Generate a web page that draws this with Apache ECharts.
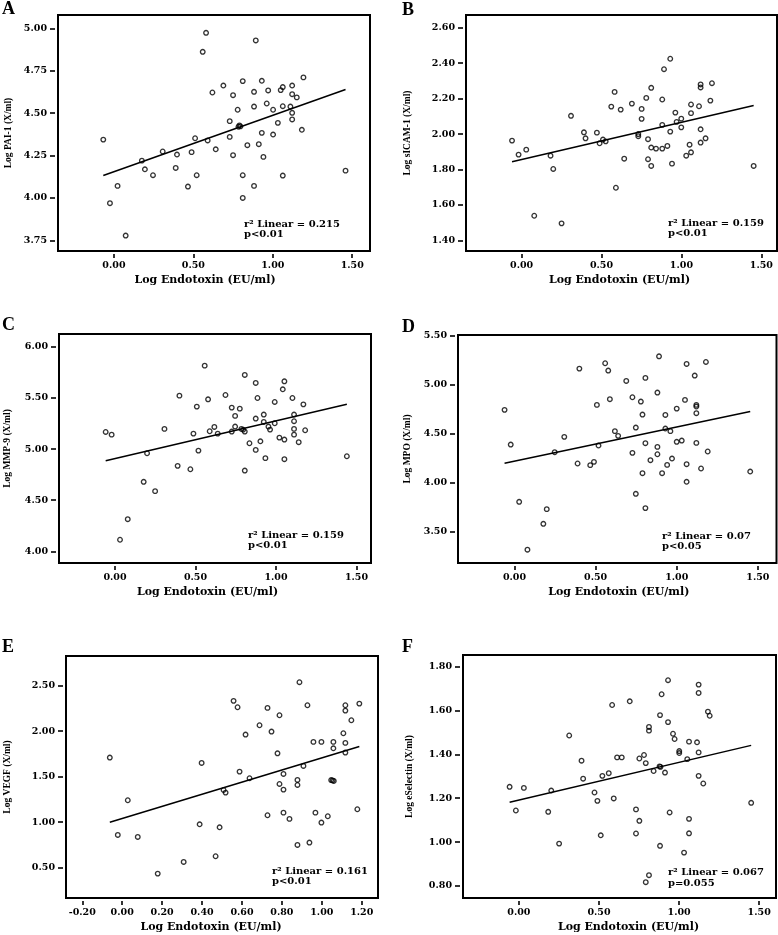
<!DOCTYPE html>
<html><head><meta charset="utf-8">
<script src="https://cdn.jsdelivr.net/npm/echarts@6/dist/echarts.min.js"></script>
<style>html,body{margin:0;padding:0;background:#fff}#c{width:778px;height:935px}</style>
</head><body><div id="c"></div>
<script>
// ---------- tick labels ----------
const xTicksMain = [0, 0.5, 1.0, 1.5];
const xTicksE = [-0.2, 0, 0.2, 0.4, 0.6, 0.8, 1.0, 1.2];
const yTicksA = [3.75, 4.00, 4.25, 4.50, 4.75, 5.00];
const yTicksB = [1.40, 1.60, 1.80, 2.00, 2.20, 2.40, 2.60];
const yTicksC = [4.00, 4.50, 5.00, 5.50, 6.00];
const yTicksD = [3.50, 4.00, 4.50, 5.00, 5.50];
const yTicksE = [0.50, 1.00, 1.50, 2.00, 2.50];
const yTicksF = [0.80, 1.00, 1.20, 1.40, 1.60, 1.80];

// ---------- categories / labels ----------
const panelLetters = ['A', 'B', 'C', 'D', 'E', 'F'];
const yTitles = ['Log PAI-1 (X/ml)', 'Log sICAM-1 (X/ml)', 'Log MMP-9 (X/ml)', 'Log MPO (X/ml)', 'Log VEGF (X/ml)', 'Log eSelectin (X/ml)'];
const xTitle = 'Log Endotoxin (EU/ml)';
const r2Values = ['0.215', '0.159', '0.159', '0.07', '0.161', '0.067'];
const pValues = ['p<0.01', 'p<0.01', 'p<0.01', 'p<0.05', 'p<0.01', 'p=0.055'];

// ---------- series values: [log endotoxin, log marker] ----------
const pai1 = [[-0.067,4.344],[-0.025,3.969],[0.023,4.071],[0.074,3.778],[0.176,4.220],[0.195,4.169],[0.246,4.134],[0.307,4.274],[0.389,4.177],[0.397,4.256],[0.466,4.067],[0.489,4.270],[0.511,4.352],[0.521,4.134],[0.559,4.862],[0.580,4.974],[0.590,4.339],[0.620,4.622],[0.641,4.287],[0.689,4.663],[0.729,4.453],[0.729,4.360],[0.750,4.606],[0.750,4.252],[0.779,4.520],[0.784,4.420],[0.790,4.428],[0.796,4.422],[0.811,4.689],[0.811,4.134],[0.811,4.000],[0.840,4.311],[0.882,4.626],[0.882,4.539],[0.882,4.071],[0.893,4.929],[0.912,4.317],[0.931,4.691],[0.931,4.384],[0.941,4.242],[0.962,4.557],[0.971,4.634],[1.002,4.520],[1.002,4.374],[1.032,4.443],[1.050,4.636],[1.063,4.654],[1.063,4.541],[1.063,4.132],[1.111,4.539],[1.122,4.663],[1.122,4.612],[1.122,4.502],[1.122,4.463],[1.151,4.593],[1.183,4.402],[1.193,4.711],[1.458,4.161]];
const sicam1 = [[-0.060,1.963],[-0.019,1.884],[0.029,1.912],[0.079,1.539],[0.181,1.878],[0.198,1.803],[0.250,1.496],[0.309,2.103],[0.390,2.010],[0.400,1.976],[0.471,2.008],[0.488,1.948],[0.509,1.969],[0.526,1.959],[0.561,2.155],[0.582,2.238],[0.590,1.697],[0.620,2.138],[0.642,1.861],[0.690,2.172],[0.730,2.000],[0.730,1.988],[0.751,2.142],[0.751,2.086],[0.780,2.204],[0.791,1.971],[0.791,1.858],[0.811,2.261],[0.811,1.924],[0.811,1.820],[0.841,1.918],[0.880,2.052],[0.880,1.918],[0.880,2.195],[0.891,2.366],[0.912,1.933],[0.930,2.425],[0.930,2.014],[0.941,1.833],[0.962,2.121],[0.970,2.069],[0.999,2.087],[0.999,2.038],[1.030,1.878],[1.051,1.940],[1.060,2.167],[1.060,2.118],[1.060,1.897],[1.110,2.157],[1.120,2.280],[1.120,2.263],[1.120,2.027],[1.120,1.952],[1.151,1.976],[1.181,2.189],[1.191,2.287],[1.452,1.820]];
const mmp9 = [[-0.058,5.167],[-0.021,5.141],[0.031,4.114],[0.079,4.315],[0.178,4.680],[0.199,4.959],[0.249,4.589],[0.307,5.197],[0.389,4.836],[0.400,5.522],[0.468,4.803],[0.487,5.151],[0.508,5.415],[0.518,4.985],[0.557,5.815],[0.578,5.486],[0.588,5.174],[0.617,5.216],[0.638,5.151],[0.686,5.528],[0.725,5.405],[0.725,5.171],[0.746,5.324],[0.746,5.220],[0.775,5.395],[0.785,5.197],[0.796,5.190],[0.806,5.171],[0.806,5.724],[0.806,4.790],[0.835,5.057],[0.874,5.646],[0.874,5.298],[0.874,4.992],[0.885,5.499],[0.903,5.076],[0.924,5.337],[0.924,5.265],[0.934,4.911],[0.953,5.220],[0.963,5.190],[0.992,5.460],[0.992,5.252],[1.021,5.112],[1.042,5.584],[1.052,5.662],[1.052,5.093],[1.052,4.901],[1.102,5.499],[1.112,5.337],[1.112,5.272],[1.112,5.197],[1.112,5.141],[1.141,5.067],[1.170,5.437],[1.181,5.184],[1.440,4.930]];
const mpo = [[-0.061,4.744],[-0.023,4.389],[0.029,3.803],[0.080,3.313],[0.178,3.578],[0.199,3.728],[0.248,4.311],[0.307,4.468],[0.389,4.195],[0.400,5.166],[0.467,4.178],[0.490,4.212],[0.508,4.795],[0.518,4.379],[0.559,5.221],[0.578,5.146],[0.588,4.853],[0.619,4.526],[0.639,4.478],[0.689,5.040],[0.727,4.873],[0.727,4.304],[0.748,4.563],[0.748,3.885],[0.779,4.829],[0.789,4.696],[0.789,4.096],[0.807,5.071],[0.807,4.403],[0.807,3.739],[0.838,4.229],[0.881,4.921],[0.881,4.365],[0.881,4.290],[0.891,5.292],[0.910,4.096],[0.930,4.692],[0.930,4.553],[0.941,4.181],[0.961,4.526],[0.971,4.246],[1.000,4.757],[1.000,4.417],[1.031,4.430],[1.051,4.846],[1.061,5.214],[1.061,4.188],[1.061,4.008],[1.111,5.095],[1.121,4.795],[1.121,4.778],[1.121,4.710],[1.121,4.406],[1.150,4.144],[1.180,5.234],[1.191,4.318],[1.453,4.113]];
const vegf = [[-0.062,1.709],[-0.022,0.859],[0.028,1.240],[0.078,0.837],[0.178,0.434],[0.308,0.562],[0.388,0.976],[0.398,1.650],[0.468,0.625],[0.488,0.943],[0.508,1.353],[0.518,1.324],[0.558,2.332],[0.578,2.262],[0.588,1.555],[0.618,1.962],[0.638,1.482],[0.688,2.064],[0.728,2.255],[0.728,1.075],[0.748,1.995],[0.778,1.756],[0.788,2.174],[0.788,1.419],[0.808,1.529],[0.808,1.357],[0.808,1.104],[0.838,1.035],[0.878,1.463],[0.878,1.408],[0.878,0.749],[0.888,2.537],[0.908,1.617],[0.928,2.284],[0.938,0.775],[0.958,1.881],[0.968,1.104],[0.998,1.881],[0.998,0.995],[1.030,1.064],[1.047,1.462],[1.054,1.458],[1.060,1.452],[1.058,1.881],[1.058,1.811],[1.108,1.976],[1.118,2.284],[1.118,2.225],[1.118,1.870],[1.118,1.764],[1.148,2.119],[1.178,1.141],[1.188,2.302]];
const eselectin = [[-0.058,1.252],[-0.019,1.144],[0.031,1.247],[0.183,1.138],[0.202,1.235],[0.251,0.993],[0.314,1.486],[0.391,1.371],[0.401,1.289],[0.472,1.226],[0.490,1.188],[0.511,1.031],[0.521,1.302],[0.561,1.314],[0.582,1.625],[0.592,1.199],[0.613,1.386],[0.642,1.386],[0.692,1.642],[0.731,1.149],[0.731,1.039],[0.752,1.381],[0.752,1.097],[0.781,1.397],[0.792,1.360],[0.792,0.817],[0.812,0.849],[0.812,1.525],[0.812,1.508],[0.841,1.324],[0.881,1.579],[0.881,0.983],[0.878,1.345],[0.884,1.343],[0.891,1.674],[0.912,1.317],[0.931,1.738],[0.931,1.547],[0.941,1.135],[0.962,1.494],[0.972,1.470],[1.001,1.415],[1.001,1.406],[1.031,0.952],[1.051,1.378],[1.062,1.458],[1.062,1.106],[1.062,1.040],[1.112,1.455],[1.122,1.718],[1.122,1.680],[1.122,1.409],[1.122,1.302],[1.151,1.267],[1.180,1.595],[1.191,1.576],[1.450,1.179]];

// ---------- fitted linear regression lines (endpoints) ----------
const fitA = [[-0.067, 4.132], [1.458, 4.640]];
const fitB = [[-0.060, 1.844], [1.452, 2.161]];
const fitC = [[-0.058, 4.885], [1.440, 5.437]];
const fitD = [[-0.061, 4.198], [1.453, 4.727]];
const fitE = [[-0.062, 0.998], [1.188, 1.830]];
const fitF = [[-0.058, 1.182], [1.450, 1.441]];

// ---------- axis extents ----------
const xRanges = [[-0.352, 1.612], [-0.348, 1.598], [-0.348, 1.590], [-0.348, 1.615], [-0.2815, 1.2815], [-0.349, 1.605]];
const yRanges = [[3.687, 5.079], [1.340, 2.672], [3.887, 6.124], [3.177, 5.510], [0.166, 2.825], [0.745, 1.853]];

const seriesData = [pai1, sicam1, mmp9, mpo, vegf, eselectin];
const fits = [fitA, fitB, fitC, fitD, fitE, fitF];
const yTicks = [yTicksA, yTicksB, yTicksC, yTicksD, yTicksE, yTicksF];
const xTicks = [xTicksMain, xTicksMain, xTicksMain, xTicksMain, xTicksE, xTicksMain];

// ---------- layout (pixels) ----------
const grids = [
  {left: 58, top: 15, width: 312, height: 236},
  {left: 466, top: 15, width: 311, height: 236},
  {left: 59, top: 334, width: 312, height: 229},
  {left: 458, top: 335, width: 318.5, height: 228},
  {left: 66, top: 656, width: 312, height: 242},
  {left: 463, top: 655, width: 313, height: 243}
];
const yNameGaps = [41, 50, 43, 42, 50, 45.5];
const xTitleShift = [-9, -2, -7.5, 1.5, -11, 9];
const letterPos = [[2, 0], [402, 1], [2, 316], [402, 318], [2, 638], [402, 638]];
const statPos = [[244, 218.8], [668, 218], [248, 529.8], [662, 530.8], [272, 865.8], [668, 867.4]];

const tickFont = {fontFamily: 'DejaVu Serif', fontWeight: 'bold', fontSize: 9.5, color: '#000'};
const fmt = v => Number(v).toFixed(2);

const option = {
  backgroundColor: '#fff',
  animation: false,
  grid: grids.map(g => Object.assign({show: true, borderColor: '#000', borderWidth: 2, backgroundColor: 'transparent', containLabel: false}, g)),
  xAxis: grids.map((g, i) => ({
    type: 'value', gridIndex: i, min: xRanges[i][0], max: xRanges[i][1],
    position: 'bottom', offset: 3,
    axisLine: {show: false, onZero: false},
    splitLine: {show: false},
    axisTick: {show: true, length: 4, customValues: xTicks[i], lineStyle: {color: '#000', width: 1.6}},
    axisLabel: Object.assign({customValues: xTicks[i], formatter: fmt, margin: 7}, tickFont),
    name: xTitle, nameLocation: 'middle', nameGap: 21,
    nameTextStyle: {fontFamily: 'DejaVu Serif', fontWeight: 'bold', fontSize: 11, color: '#000',
      padding: xTitleShift[i] < 0 ? [0, -2 * xTitleShift[i], 0, 0] : [0, 0, 0, 2 * xTitleShift[i]]}
  })),
  yAxis: grids.map((g, i) => ({
    type: 'value', gridIndex: i, min: yRanges[i][0], max: yRanges[i][1],
    position: 'left', offset: 3,
    axisLine: {show: false, onZero: false},
    splitLine: {show: false},
    axisTick: {show: true, length: 5, customValues: yTicks[i], lineStyle: {color: '#000', width: 1.6}},
    axisLabel: Object.assign({customValues: yTicks[i], formatter: fmt, margin: 8}, tickFont),
    name: yTitles[i], nameLocation: 'middle', nameGap: yNameGaps[i], nameRotate: 90,
    nameTextStyle: {fontFamily: 'Liberation Serif', fontWeight: 'bold', fontSize: 9.5, color: '#000'}
  })),
  series: [].concat(
    fits.map((f, i) => ({
      type: 'line', xAxisIndex: i, yAxisIndex: i, data: f, symbol: 'none', silent: true,
      lineStyle: {color: '#000', width: 1.5}, z: 2
    })),
    seriesData.map((d, i) => ({
      type: 'scatter', xAxisIndex: i, yAxisIndex: i, data: d, symbol: 'circle', symbolSize: 4.6,
      itemStyle: {color: 'rgba(255,255,255,0)', borderColor: '#000', borderWidth: 1.3}, z: 3
    }))
  ),
  graphic: [].concat(
    panelLetters.map((l, i) => ({
      type: 'text', left: letterPos[i][0], top: letterPos[i][1],
      style: {text: l, font: 'bold 18px "Liberation Serif"', fill: '#000'}
    })),
    r2Values.map((r, i) => ({
      type: 'text', left: statPos[i][0], top: statPos[i][1],
      style: {text: 'r\u00B2 Linear = ' + r + '\n' + pValues[i], font: 'bold 10px "DejaVu Serif"', lineHeight: 10.5, fill: '#000'}
    }))
  )
};

const chart = echarts.init(document.getElementById('c'), null, {renderer: 'canvas'});
chart.setOption(option);
</script>
</body></html>
